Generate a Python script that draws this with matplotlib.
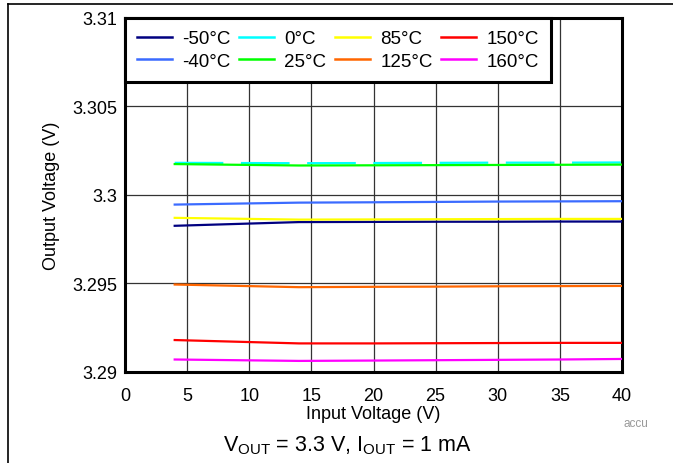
import matplotlib
matplotlib.use("Agg")
import matplotlib.pyplot as plt
from matplotlib.lines import Line2D

plt.rcParams['font.family'] = ['Liberation Sans', 'DejaVu Sans']
plt.rcParams['mathtext.fontset'] = 'custom'
plt.rcParams['mathtext.rm'] = 'Liberation Sans'
plt.rcParams['mathtext.it'] = 'Liberation Sans'

# Data
vin = [4, 14, 20, 25, 30, 35, 40]
labels = ['-50°C', '-40°C', '0°C', '25°C', '85°C', '125°C', '150°C', '160°C']
v_m50 = [3.29825, 3.29846, 3.29847, 3.29848, 3.29848, 3.29849, 3.29849]
v_m40 = [3.29945, 3.29956, 3.29958, 3.29960, 3.29962, 3.29963, 3.29964]
v_0   = [3.30181, 3.30179, 3.30180, 3.30181, 3.30182, 3.30182, 3.30183]
v_25  = [3.30174, 3.30166, 3.30167, 3.30168, 3.30169, 3.30170, 3.30171]
v_85  = [3.29870, 3.29860, 3.29861, 3.29862, 3.29863, 3.29864, 3.29864]
v_125 = [3.29493, 3.29478, 3.29480, 3.29481, 3.29483, 3.29484, 3.29485]
v_150 = [3.29179, 3.29160, 3.29160, 3.29161, 3.29162, 3.29163, 3.29163]
v_160 = [3.29069, 3.29061, 3.29063, 3.29065, 3.29067, 3.29069, 3.29072]
series = [v_m50, v_m40, v_0, v_25, v_85, v_125, v_150, v_160]
colors = ['#000080', '#3B6BFF', '#00FFFF', '#00FF00', '#FFFF00', '#FF6600', '#FF0000', '#FF00FF']
xticks = [0, 5, 10, 15, 20, 25, 30, 35, 40]
yticks = [3.29, 3.295, 3.3, 3.305, 3.31]
yticklabels = ['3.29', '3.295', '3.3', '3.305', '3.31']

fig = plt.figure(figsize=(6.73, 4.64), dpi=100)
ax = fig.add_axes([125/673, 1 - 372.7/464, (622-125)/673, (372.7-19)/464])

for i in range(len(series)):
    kw = dict(color=colors[i], lw=1.6, zorder=3)
    if labels[i] == '0°C':
        kw.update(dashes=(21.9, 7.9), zorder=2.5)
    ax.plot(vin, series[i], **kw)

ax.set_xlim(0, 40)
ax.set_ylim(3.29, 3.31)
ax.set_xticks(xticks)
ax.set_yticks(yticks)
ax.set_yticklabels(yticklabels)
ax.tick_params(axis='both', length=0, labelsize=13)
ax.tick_params(axis='y', pad=5.5)
ax.tick_params(axis='x', pad=11)
ax.grid(True, color='#333333', lw=0.9, zorder=1)
ax.set_axisbelow(True)
for s in ax.spines.values():
    s.set_linewidth(2.2)
    s.set_color('black')

ax.set_xlabel('Input Voltage (V)', fontsize=13, labelpad=1)
ax.set_ylabel('Output Voltage (V)', fontsize=13, labelpad=9)

leg_handles = [Line2D([], [], color=c, lw=1.8) for c in colors]
leg = ax.legend(leg_handles, labels, loc='upper left', bbox_to_anchor=(0, 1), ncol=4,
                borderaxespad=0, fancybox=False, edgecolor='black', framealpha=1,
                fontsize=13.5, handlelength=1.87, handletextpad=0.53, columnspacing=0.47,
                labelspacing=0.27, borderpad=0.65)
leg.get_frame().set_linewidth(2.2)
leg.set_zorder(5)

fig.text(347/673, 1 - 446/464, r'V$_{\mathrm{OUT}}$ = 3.3 V, I$_{\mathrm{OUT}}$ = 1 mA',
         ha='center', va='center', fontsize=15.5)
fig.text(636/673, 1 - 424/464, 'accu', ha='center', va='center', fontsize=8.5, color='#999999')

fig.add_artist(Line2D([8/673, 1], [1 - 5/464, 1 - 5/464], color='black', lw=1.2, transform=fig.transFigure))
fig.add_artist(Line2D([8/673, 8/673], [0, 1 - 5/464], color='black', lw=1.2, transform=fig.transFigure))

fig.savefig('out.png', dpi=100)
